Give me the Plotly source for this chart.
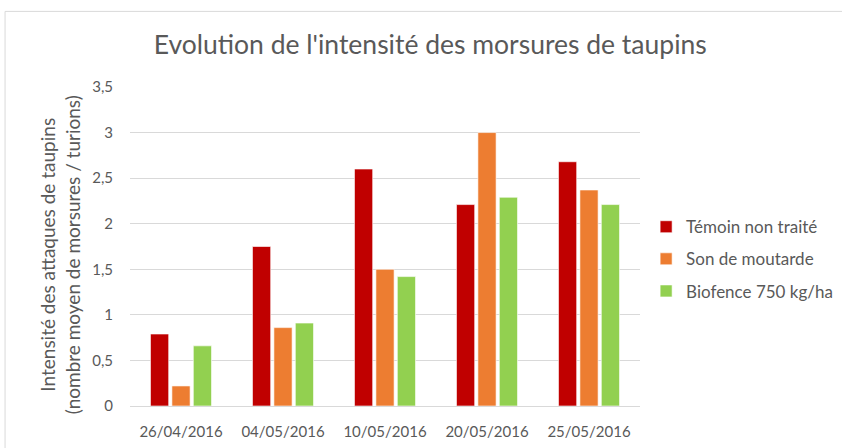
import plotly.graph_objects as go

dates = ["26/04/2016", "04/05/2016", "10/05/2016", "20/05/2016", "25/05/2016"]
temoin = [0.79, 1.75, 2.60, 2.21, 2.68]
moutarde = [0.22, 0.86, 1.50, 3.00, 2.37]
biofence = [0.66, 0.91, 1.42, 2.29, 2.21]

series = [
    ("Témoin non traité", temoin, "#C00000"),
    ("Son de moutarde", moutarde, "#ED7D31"),
    ("Biofence 750 kg/ha", biofence, "#92D050"),
]

grey = "#595959"
fig = go.Figure()
for i, (name, vals, col) in enumerate(series):
    fig.add_trace(
        go.Bar(
            x=dates,
            y=vals,
            name=name,
            legendgroup=str(i),
            marker=dict(color=col, line=dict(color="rgba(255,255,255,0.6)", width=1)),
        )
    )

fig.update_layout(
    width=842,
    height=448,
    paper_bgcolor="white",
    plot_bgcolor="white",
    font=dict(family="Lato, Carlito, sans-serif", size=15, color=grey),
    separators=", ",
    barmode="group",
    bargap=0.37,
    bargroupgap=0.15,
    margin=dict(l=130, r=202, t=87, b=42, autoexpand=False),
    title=dict(
        text="Evolution de l'intensité des morsures de taupins",
        x=0.511,
        xanchor="center",
        y=0.9,
        yanchor="middle",
        font=dict(size=26.5, color=grey),
    ),
    legend=dict(
        x=1.012,
        y=0.617,
        xanchor="left",
        yanchor="top",
        font=dict(size=17, color=grey),
        tracegroupgap=7,
        itemwidth=30,
    ),
    showlegend=True,
)
fig.update_yaxes(
    range=[0, 3.5],
    dtick=0.5,
    showgrid=True,
    gridcolor="#D9D9D9",
    gridwidth=1,
    zeroline=True,
    zerolinecolor="#D9D9D9",
    zerolinewidth=1,
    ticks="",
    ticklabelstandoff=16,
    automargin=False,
    tickfont=dict(size=15, color=grey),
)
fig.update_xaxes(
    showline=True,
    linecolor="#D9D9D9",
    ticks="",
    ticklabelstandoff=12,
    automargin=False,
    tickfont=dict(size=15, color=grey),
)
# y axis title as an annotation so it can sit where it does in the original
fig.add_annotation(
    text="Intensité des attaques de taupins<br>(nombre moyen de morsures / turions)",
    xref="paper",
    yref="paper",
    x=-0.137,
    y=0.473,
    xanchor="center",
    yanchor="middle",
    textangle=-90,
    showarrow=False,
    font=dict(size=19, color=grey),
)
# chart frame
fig.add_shape(
    type="rect",
    xref="paper",
    yref="paper",
    x0=-0.245,
    x1=1.5,
    y0=-0.2,
    y1=1.237,
    line=dict(color="#D9D9D9", width=1),
    layer="below",
)

fig.write_html(
    "out.html",
    config={"displayModeBar": False},
    post_script="document.body.style.margin='0';",
)
